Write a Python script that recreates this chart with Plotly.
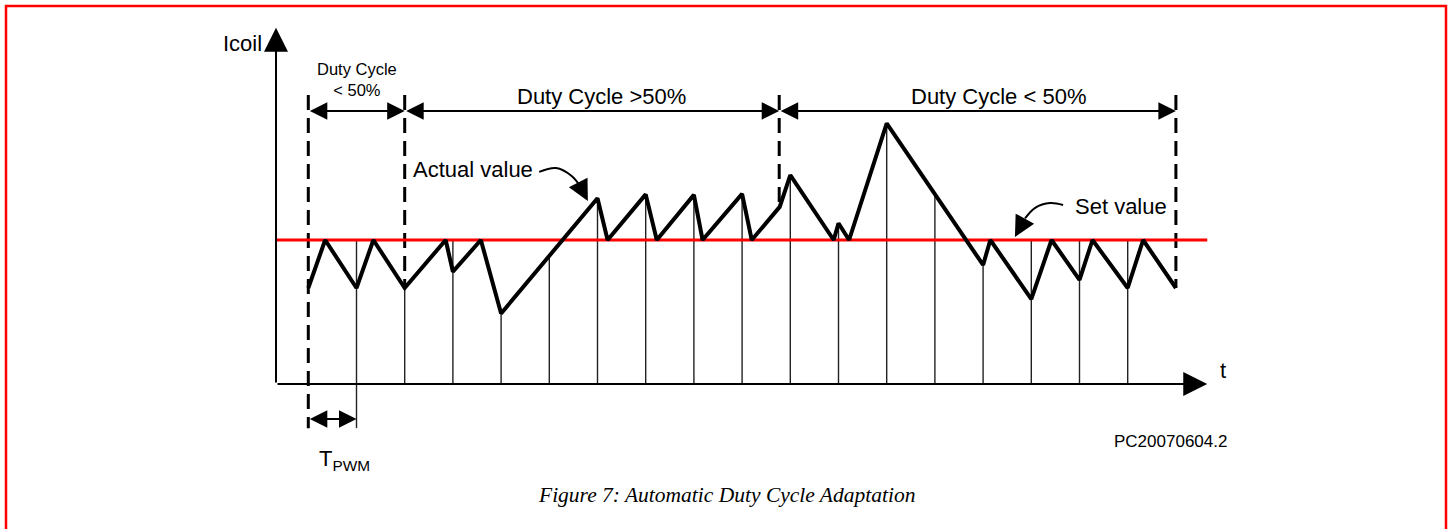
import plotly.graph_objects as go

# ---------------- data (time in PWM periods, current in arbitrary units) ----------------
actual_t = [0, 0.35, 1, 1.35, 2, 2.85, 3, 3.58, 4, 6, 6.21, 7, 7.23, 8, 8.18, 9, 9.2,
            9.78, 10, 10.9, 11, 11.22, 12, 14, 14.15, 15, 15.42, 16, 16.27, 17, 17.32, 18]
actual_i = [2.0, 3.0, 2.0, 3.0, 2.0, 3.0, 2.34, 3.0, 1.47, 3.87, 3.0, 3.95, 3.0, 3.94, 3.0, 3.96, 3.0,
            3.69, 4.35, 3.0, 3.35, 3.0, 5.43, 2.48, 3.0, 1.77, 3.0, 2.17, 3.0, 2.0, 3.0, 2.0]
set_value = 3.0

pwm_t = [1, 2, 3, 4, 5, 6, 7, 8, 9, 10, 11, 12, 13, 14, 15, 16, 17]
pwm_top = [3.0, 2.0, 3.0, 1.47, 2.63, 3.87, 3.95, 3.94, 3.96, 4.35, 3.35, 5.43, 3.95, 2.48, 3.0, 3.0, 3.0]

boundary_t = [0, 2, 9.77, 18]
boundary_top = [6.02, 6.02, 6.02, 6.02]
boundary_bottom = [-0.92, 2.0, 3.69, 2.0]

duty_labels = ["Duty Cycle<br>< 50%", "Duty Cycle >50%", "Duty Cycle < 50%"]
duty_label_t = [1.0, 6.09, 14.31]
duty_label_i = [6.34, 6.0, 6.0]
duty_label_size = [16.5, 22, 22]
duty_arrow_i = 5.69

actual_curve_t = [4.79, 5.14, 5.47, 5.64]
actual_curve_i = [4.42, 4.5, 4.33, 4.12]
actual_tip = (5.80, 3.81)
set_curve_t = [15.66, 15.39, 15.08, 14.87]
set_curve_i = [3.73, 3.77, 3.67, 3.45]
set_tip = (14.66, 3.06)

axis_origin = (-0.67, 0.0)
y_axis_tip = 7.42
x_axis_tip = 18.65
tpwm_i = -0.73
tpwm_line_bottom = -0.92

X_RANGE = [-6.3963, 23.666]
Y_RANGE = [-3.0208, 8.0]

FONT = "Liberation Sans, Arial, sans-serif"

fig = go.Figure()

# thin PWM period lines
xs, ys = [], []
for t, top in zip(pwm_t, pwm_top):
    xs += [t, t, None]
    ys += [0, top, None]
xs += [1, 1, None]
ys += [0, tpwm_line_bottom, None]
fig.add_trace(go.Scatter(x=xs, y=ys, mode="lines", line=dict(color="#222", width=1.4),
                         hoverinfo="skip", showlegend=False))

# dashed boundary lines
xs, ys = [], []
for t, top, bot in zip(boundary_t, boundary_top, boundary_bottom):
    xs += [t, t, None]
    ys += [top, bot, None]
fig.add_trace(go.Scatter(x=xs, y=ys, mode="lines", line=dict(color="black", width=3, dash="15px,8px"),
                         hoverinfo="skip", showlegend=False))

# set value line
fig.add_trace(go.Scatter(x=[axis_origin[0], x_axis_tip], y=[set_value, set_value], mode="lines",
                         line=dict(color="#ff0000", width=3), hoverinfo="skip", showlegend=False))

# actual value
fig.add_trace(go.Scatter(x=actual_t, y=actual_i, mode="lines", line=dict(color="black", width=4),
                         hoverinfo="skip", showlegend=False))

# curved callouts
fig.add_trace(go.Scatter(x=actual_curve_t, y=actual_curve_i, mode="lines",
                         line=dict(color="black", width=2, shape="spline"), hoverinfo="skip", showlegend=False))
fig.add_trace(go.Scatter(x=set_curve_t, y=set_curve_i, mode="lines",
                         line=dict(color="black", width=2, shape="spline"), hoverinfo="skip", showlegend=False))

annotations = []

def arrow(x0, y0, x1, y1, size=1.7, width=2, both=False):
    d = dict(x=x1, y=y1, ax=x0, ay=y0, xref="x", yref="y", axref="x", ayref="y", text="",
             showarrow=True, arrowhead=2, arrowsize=size, arrowwidth=width, arrowcolor="black",
             standoff=0, startstandoff=0)
    if both:
        d.update(arrowside="end+start", startarrowhead=2, startarrowsize=size)
    annotations.append(d)

# axes
arrow(axis_origin[0], axis_origin[1], axis_origin[0], y_axis_tip, size=2.4)
arrow(axis_origin[0], axis_origin[1], x_axis_tip, axis_origin[1], size=2.4)

# duty cycle span arrows
for a, b in zip(boundary_t[:-1], boundary_t[1:]):
    arrow(a, duty_arrow_i, b, duty_arrow_i, size=1.75, both=True)

# T_PWM arrow
arrow(0, tpwm_i, 1, tpwm_i, size=1.75, both=True)

# callout heads
arrow(actual_curve_t[-1], actual_curve_i[-1], actual_tip[0], actual_tip[1], size=2.1)
arrow(set_curve_t[-1], set_curve_i[-1], set_tip[0], set_tip[1], size=2.1)

def label(text, x, y, size=22, xanchor="center", family=FONT):
    annotations.append(dict(x=x, y=y, xref="x", yref="y", text=text, showarrow=False,
                            xanchor=xanchor, yanchor="middle", font=dict(family=family, size=size, color="black")))

label("Icoil", -0.92, 7.10, 22, xanchor="right")
label("t", 18.98, 0.29, 22)
for txt, t, i, s in zip(duty_labels, duty_label_t, duty_label_i, duty_label_size):
    label(txt, t, i, s)
label("Actual value", 3.42, 4.46, 22)
label("Set value", 16.86, 3.69, 22)
label("T<sub>PWM</sub>", 0.75, -1.58, 22)
label("PC20070604.2", 17.89, -1.19, 17)
label("<i>Figure 7: Automatic Duty Cycle Adaptation</i>", 8.67, -2.31, 21.5,
      family="Liberation Serif, Times New Roman, serif")

fig.update_layout(
    width=1449, height=529,
    margin=dict(l=0, r=0, t=0, b=0),
    paper_bgcolor="white", plot_bgcolor="white",
    xaxis=dict(range=X_RANGE, visible=False, fixedrange=True),
    yaxis=dict(range=Y_RANGE, visible=False, fixedrange=True),
    annotations=annotations,
    shapes=[dict(type="rect", xref="paper", yref="paper", x0=6/1449, x1=1446/1449,
                 y0=-0.05, y1=1-6/529, line=dict(color="#ff0000", width=2.5))],
    showlegend=False,
)

fig.write_html("out.html", config={"displayModeBar": False},
               post_script="document.body.style.margin='0';document.body.style.overflow='hidden';")
